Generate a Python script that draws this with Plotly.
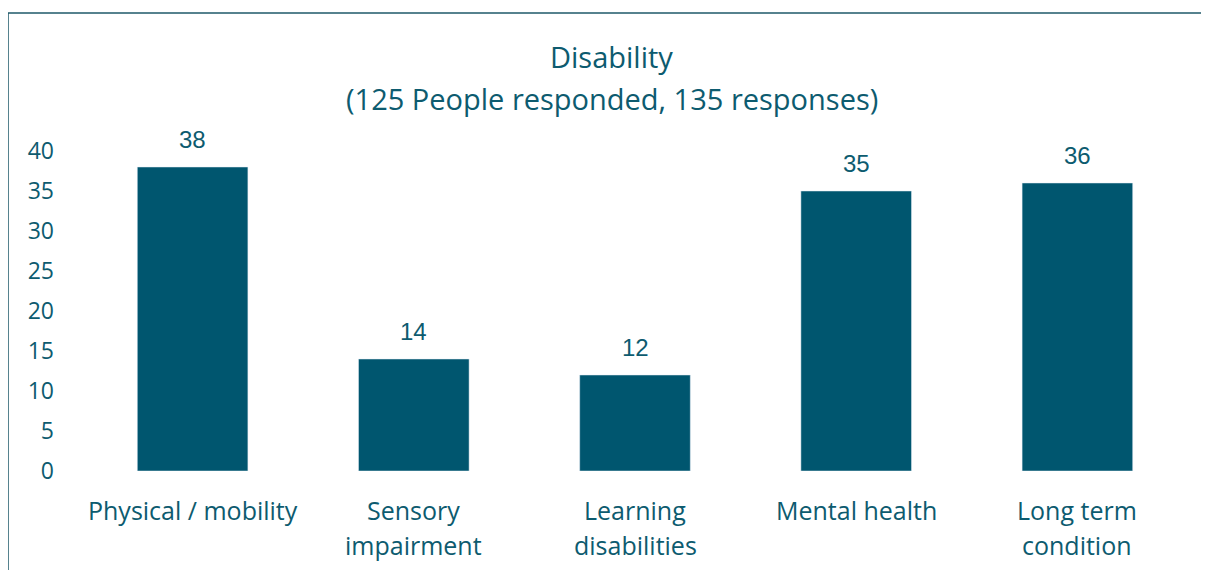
import plotly.graph_objects as go

categories = ["Physical / mobility", "Sensory\nimpairment", "Learning\ndisabilities", "Mental health", "Long term\ncondition"]
values = [38, 14, 12, 35, 36]
y_ticks = [0, 5, 10, 15, 20, 25, 30, 35, 40]
title_lines = ["Disability", "(125 People responded, 135 responses)"]

BAR = "#00566F"
TXT = "#0D5B6F"
FONT = "Open Sans"

W, H = 1209, 570
ml, mr, mt, mb = 74, 29, 143, 107
pw = W - ml - mr
ph = H - mt - mb


def px_x(p):
    return (p - ml) / pw


def px_y(p):
    return (H - mb - p) / ph


fig = go.Figure()
fig.add_trace(go.Bar(
    x=list(range(len(categories))), y=values,
    marker_color=BAR, width=0.5,
    cliponaxis=False, hoverinfo="skip",
))

ann = []
# value labels
for i, v in enumerate(values):
    ann.append(dict(x=i, xref="x", y=v, yref="y", yanchor="middle", yshift=28,
                    text=str(v), showarrow=False,
                    font=dict(family="Liberation Sans, Arial", size=24, color=TXT)))
# category labels
for i, c in enumerate(categories):
    for j, line in enumerate(c.split("\n")):
        ann.append(dict(x=i, xref="x", y=0, yref="paper", yanchor="middle",
                        yshift=-39 - 35 * j, text=line, showarrow=False,
                        font=dict(family=FONT, size=25, color=TXT)))
# title lines
for line, ypx in zip(title_lines, [48.5, 90.5]):
    ann.append(dict(x=px_x(603.5), xref="paper", y=px_y(ypx), yref="paper",
                    xanchor="center", yanchor="middle", text=line, showarrow=False,
                    font=dict(family=FONT, size=29, color=TXT)))

shapes = [
    dict(type="line", xref="paper", yref="paper", x0=px_x(0), x1=px_x(1215), y0=px_y(5), y1=px_y(5),
         line=dict(color="#1E5868", width=1.5)),
    dict(type="line", xref="paper", yref="paper", x0=px_x(0), x1=px_x(0), y0=px_y(5), y1=px_y(580),
         line=dict(color="#1E5868", width=1.5)),
]

fig.update_layout(
    width=W, height=H,
    margin=dict(l=ml, r=mr, t=mt, b=mb),
    paper_bgcolor="white", plot_bgcolor="white",
    showlegend=False,
    annotations=ann, shapes=shapes,
    xaxis=dict(range=[-0.5, len(categories) - 0.5], showticklabels=False, showgrid=False,
               zeroline=False, showline=False, ticks=""),
    yaxis=dict(range=[0, 40], tickvals=y_ticks, showgrid=False, zeroline=False, showline=False,
               tickfont=dict(family=FONT, size=23, color=TXT), ticklabelstandoff=27),
)

fig.write_html("out.html")
